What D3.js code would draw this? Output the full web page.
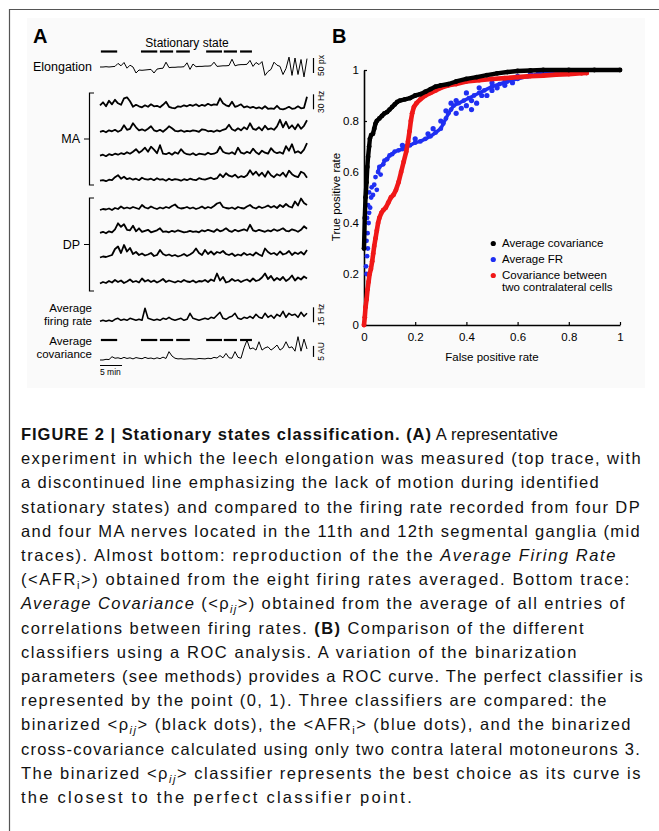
<!DOCTYPE html>
<html><head><meta charset="utf-8">
<script src="https://cdn.jsdelivr.net/npm/d3@7"></script>
<style>
body{margin:0;background:#fff}
svg{display:block}
text{font-family:"Liberation Sans",Arial,Helvetica,sans-serif}
</style>
</head><body>
<svg id="c" width="659" height="831"></svg>
<script>
// ---------------- DATA ----------------
// Panel A: traces sampled along 47 min of recording (70 samples each)
const recordMinutes = 47;
const elongation = [0,0,1,0,1, 2,12,4,15,-4, 6,0,-20,-10,-11, -10,-9,-8,-20,-7, -5,-4,16,-2,-1, -1,0,0,1,14, -8,10,1,2,2, 3,3,4,16,2, 3,4,4,5,26, 4,7,8,8,9, 22,2,15,8,18, -28,-15,-8,16,6, 2,-25,-5,33,-28, 30,-25,25,-33,28];
const ma1 = [8,14,6,17,10, 19,12,9,22,24, 16,5,9,6,4, 8,5,10,6,7, 4,9,15,5,3, 2,6,5,8,6, 9,7,10,6,9, 7,11,8,10,9, 22,12,8,6,15, 5,7,10,4,6, 3,5,2,4,1, 6,1,2,1,7, 1,0,2,5,1, 2,6,2,3,25];
const ma2 = [3,5,2,6,4,7,3,6,16,7, 9,20,12,6,8,5,9,14,6,4, 7,3,8,14,10,5,4,6,3,5, 4,6,5,3,8,7,4,5,3,6, 4,7,9,17,8,5,10,6,12,8, 20,9,7,12,6,15,8,10,7,14, 27,12,23,10,16,8,18,9,15,26];
const ma3 = [2,4,1,5,3,6,4,7,5,9, 6,10,15,8,12,18,10,20,14,7, 23,6,5,8,4,9,6,15,8,5, 4,7,3,6,5,4,8,5,6,9, 20,10,7,6,9,5,18,8,6,10, 7,16,9,5,12,8,6,17,10,7, 9,6,21,12,25,8,11,7,14,27];
const ma4 = [2,3,1,4,3,9,13,6,10,5, 7,4,6,3,8,5,4,6,3,7, 4,5,2,6,3,5,4,2,5,3, 6,4,3,7,5,4,6,8,5,7, 15,9,17,12,10,14,8,11,9,13, 23,14,20,12,18,10,21,13,9,15, 12,18,10,22,15,11,9,20,17,8];
const dp1 = [2,4,3,5,2,6,4,9,5,7, 5,8,6,4,12,7,5,9,6,4, 7,5,8,6,10,13,7,5,6,8, 5,7,4,6,9,5,8,6,10,15, 17,8,6,5,7,4,8,6,5,9, 12,7,5,9,6,8,11,7,10,6, 12,8,14,9,7,19,11,25,16,12];
const dp2 = [3,5,2,6,4,10,22,15,20,9, 8,17,6,12,5,7,9,4,6,8, 12,5,6,4,7,5,8,6,4,5, 7,5,6,4,8,6,9,7,5,10, 6,8,12,7,5,9,6,8,10,7, 19,8,6,9,7,5,8,6,10,7, 9,12,7,6,10,8,5,9,16,11];
const dp3 = [3,5,4,6,8,20,25,12,28,15, 22,10,14,8,11,7,9,12,6,8, 18,10,7,9,6,8,5,7,10,6, 9,13,21,12,8,18,10,15,9,14, 12,16,10,8,11,6,9,7,12,8, 10,7,13,9,6,21,14,10,12,8, 15,9,11,16,8,13,10,14,9,18];
const dp4 = [3,6,4,8,5,10,6,9,4,7, 11,6,8,5,13,7,10,6,9,5, 8,12,6,9,7,5,8,6,10,7, 6,9,5,8,7,10,6,11,8,23, 9,16,5,7,12,8,10,6,9,11, 7,13,8,10,15,23,12,18,9,14, 10,16,8,12,19,9,15,11,17,13];
const avgFiringRate = [1,2,1,2,1,3,4,2,3,2, 4,3,2,3,2,14,4,3,2,3, 2,4,3,5,3,2,3,4,2,3, 9,4,3,2,3,4,3,5,4,7, 10,4,3,5,6,9,4,3,5,4, 6,4,8,5,4,9,5,7,4,8, 6,11,5,9,7,8,5,10,6,9];
const avgCovariance = [0,0,0.3,0.2,1.5,0.8,1,0.6,1.2,0.7, 1,0.5,1.1,0.8,0.6,1.2,0.7,0.9,0.5,1, 0.6,1.3,0.7,3.8,1.8,0.8,0.5,0.6,0.4,0.5, 0.6,0.5,0.4,0.7,0.6,0.5,0.8,0.6,1.2,0.9, 2,1,3,1,0.8,3.8,1.2,0.8,5.5,9, 5,5.5,4.5,8.3,4.5,5.5,6,4.5,5.5,6.8, 4.5,5.5,8.3,5.5,6,4,10.6,4,9.5,5];
// stationary state intervals (minutes)
const stationaryStates = [[0.2,3.9],[9.3,13.0],[13.6,16.6],[17.3,20.4],[24.1,27.7],[28.1,31.1],[31.8,34.5]];

// Panel B: ROC points [false positive rate, true positive rate]
const rocAvgCovariance = [[0,0.3],[0.003,0.42],[0.006,0.5],[0.01,0.56],[0.013,0.62],[0.016,0.66],[0.02,0.7],[0.023,0.73],[0.028,0.745],[0.035,0.75],[0.04,0.77],[0.045,0.79],[0.05,0.8],[0.06,0.81],[0.07,0.82],[0.08,0.83],[0.09,0.835],[0.1,0.845],[0.11,0.855],[0.12,0.865],[0.13,0.875],[0.14,0.88],[0.16,0.885],[0.18,0.89],[0.2,0.9],[0.22,0.905],[0.24,0.915],[0.26,0.925],[0.28,0.935],[0.3,0.94],[0.33,0.945],[0.36,0.955],[0.4,0.965],[0.44,0.972],[0.48,0.98],[0.52,0.987],[0.56,0.992],[0.6,0.996],[0.65,0.998],[0.7,1],[0.8,1],[0.9,1],[1,1]];
const rocContralateral = [[0,0],[0.003,0.03],[0.006,0.07],[0.01,0.1],[0.014,0.14],[0.018,0.17],[0.022,0.2],[0.027,0.22],[0.032,0.25],[0.036,0.28],[0.04,0.31],[0.045,0.34],[0.05,0.37],[0.055,0.4],[0.06,0.42],[0.068,0.44],[0.075,0.45],[0.085,0.46],[0.095,0.48],[0.105,0.5],[0.115,0.51],[0.125,0.53],[0.135,0.56],[0.145,0.6],[0.155,0.64],[0.165,0.68],[0.172,0.72],[0.178,0.76],[0.183,0.8],[0.188,0.83],[0.195,0.855],[0.205,0.87],[0.22,0.885],[0.24,0.9],[0.26,0.91],[0.28,0.92],[0.3,0.93],[0.33,0.94],[0.36,0.945],[0.4,0.955],[0.45,0.96],[0.5,0.965],[0.55,0.968],[0.6,0.972],[0.65,0.976],[0.7,0.978],[0.75,0.982],[0.8,0.984],[0.85,0.987],[0.87,0.988]];
const rocAvgFR = [[0.01,0.2],[0.008,0.23],[0.012,0.27],[0.015,0.3],[0.01,0.33],[0.014,0.36],[0.018,0.4],[0.012,0.42],[0.02,0.44],[0.016,0.47],[0.024,0.46],[0.028,0.5],[0.02,0.52],[0.035,0.51],[0.03,0.54],[0.04,0.55],[0.05,0.53],[0.045,0.58],[0.055,0.6],[0.065,0.59],[0.06,0.62],[0.075,0.63],[0.08,0.645],[0.09,0.65],[0.1,0.665],[0.11,0.67],[0.12,0.68],[0.135,0.685],[0.15,0.69],[0.165,0.7],[0.18,0.705],[0.2,0.715],[0.22,0.72],[0.24,0.73],[0.26,0.74],[0.28,0.755],[0.3,0.77],[0.31,0.79],[0.32,0.81],[0.33,0.83],[0.34,0.845],[0.35,0.86],[0.37,0.87],[0.39,0.88],[0.41,0.89],[0.43,0.9],[0.45,0.91],[0.47,0.92],[0.5,0.935],[0.53,0.945],[0.56,0.955],[0.6,0.965],[0.64,0.975],[0.68,0.985],[0.72,0.99],[0.76,0.995]];
const rocAvgFRSpread = [[0.3,0.8],[0.32,0.84],[0.34,0.87],[0.36,0.88],[0.38,0.85],[0.4,0.86],[0.42,0.88],[0.44,0.87],[0.46,0.9],[0.48,0.9],[0.5,0.92],[0.52,0.93],[0.55,0.94],[0.58,0.95],[0.4,0.91],[0.45,0.93],[0.5,0.95],[0.55,0.965],[0.6,0.975],[0.65,0.985],[0.25,0.75],[0.27,0.77],[0.2,0.73],[0.15,0.705],[0.36,0.83],[0.42,0.845]];
const rocTicks = [0,0.2,0.4,0.6,0.8,1];
const legendLabels = [["Average covariance"],["Average FR"],["Covariance between","two contralateral cells"]];

// Caption
const captionLines = [
 [["FIGURE 2 | Stationary states classification. (A)","b"],[" A representative",""]],
 [["experiment in which the leech elongation was measured (top trace, with",""]],
 [["a discontinued line emphasizing the lack of motion during identified",""]],
 [["stationary states) and compared to the firing rate recorded from four DP",""]],
 [["and four MA nerves located in the 11th and 12th segmental ganglia (mid",""]],
 [["traces). Almost bottom: reproduction of the the ",""],["Average Firing Rate","i"]],
 [["(<AFR",""],["i","sub"],[">) obtained from the eight firing rates averaged. Bottom trace:",""]],
 [["Average Covariance","i"],[" (<\u03C1",""],["ij","subi"],[">) obtained from the average of all entries of",""]],
 [["correlations between firing rates. ",""],["(B)","b"],[" Comparison of the different",""]],
 [["classifiers using a ROC analysis. A variation of the binarization",""]],
 [["parameters (see methods) provides a ROC curve. The perfect classifier is",""]],
 [["represented by the point (0, 1). Three classifiers are compared: the",""]],
 [["binarized <\u03C1",""],["ij","subi"],["> (black dots), the <AFR",""],["i","sub"],["> (blue dots), and the binarized",""]],
 [["cross-covariance calculated using only two contra lateral motoneurons 3.",""]],
 [["The binarized <\u03C1",""],["ij","subi"],["> classifier represents the best choice as its curve is",""]],
 [["the closest to the perfect classifier point.",""]]
];

// ---------------- DRAW ----------------
const svg = d3.select("#c");
svg.append("rect").attr("x",27).attr("y",18).attr("width",618).attr("height",370).attr("fill","#fafafa");
svg.append("path").attr("d","M9.5,831V9.5H659").attr("fill","none").attr("stroke","#555").attr("stroke-width",1.2);

// ===== Panel A =====
const gA = svg.append("g");
gA.append("text").attr("x",33).attr("y",43).attr("font-size",20).attr("font-weight","bold").text("A");
const xT = d3.scaleLinear().domain([0,recordMinutes]).range([100,307]);
const tOf = (i,n) => i*recordMinutes/(n-1);

function drawTrace(vals, base, pxPerUnit, sw){
  const y = d3.scaleLinear().domain([0,1]).range([base, base - pxPerUnit]);
  const line = d3.line().x((d,i)=>xT(tOf(i,vals.length))).y(d=>y(d));
  gA.append("path").attr("d",line(vals)).attr("fill","none").attr("stroke","#000")
    .attr("stroke-width",sw).attr("stroke-linejoin","round");
  return y;
}
function scaleBar(y, v0, v1, label){
  const x = 313.5;
  gA.append("line").attr("x1",x).attr("x2",x).attr("y1",y(v0)).attr("y2",y(v1)).attr("stroke","#000").attr("stroke-width",1.2);
  const mid = (y(v0)+y(v1))/2;
  gA.append("text").attr("transform",`translate(${x+10},${mid}) rotate(-90)`).attr("text-anchor","middle")
    .attr("font-size",8.5).text(label);
}
function dashes(yPos){
  gA.selectAll(null).data(stationaryStates).enter().append("line")
    .attr("x1",d=>xT(d[0])).attr("x2",d=>xT(d[1])).attr("y1",yPos).attr("y2",yPos)
    .attr("stroke","#000").attr("stroke-width",2.2);
}
function label(lines, yFirst){
  lines.forEach((t,k)=>gA.append("text").attr("x",92).attr("y",yFirst+k*13).attr("text-anchor","end").attr("font-size",lines.length>1?11.5:12.5).text(t));
}

gA.append("text").attr("x",187).attr("y",46.5).attr("text-anchor","middle").attr("font-size",12).text("Stationary state");
dashes(51.5);
label(["Elongation"],71);
const yE = drawTrace(elongation, 67, 0.3, 1);
scaleBar(yE, -20, 30, "50 px");

const FRW = 1.8;
const yMA1 = drawTrace(ma1, 109.3, 0.5, FRW);
drawTrace(ma2, 133.3, 0.5, FRW);
drawTrace(ma3, 156.7, 0.5, FRW);
drawTrace(ma4, 181.7, 0.5, FRW);
scaleBar(yMA1, 0, 30, "30 Hz");

drawTrace(dp1, 211, 0.5, FRW);
drawTrace(dp2, 234.3, 0.5, FRW);
drawTrace(dp3, 259, 0.5, FRW);
drawTrace(dp4, 285, 0.5, FRW);

function bracket(y0,y1,name){
  const x=89.5, mid=(y0+y1)/2;
  gA.append("path").attr("d",`M94,${y0}H${x}V${y1}H94M${x},${mid}H84`).attr("fill","none").attr("stroke","#000").attr("stroke-width",1.2);
  gA.append("text").attr("x",80).attr("y",mid+4.3).attr("text-anchor","end").attr("font-size",12.5).text(name);
}
bracket(93,185,"MA");
bracket(198,291,"DP");

label(["Average","firing rate"],311.5);
const yAFR = drawTrace(avgFiringRate, 322.3, 1, 1.6);
scaleBar(yAFR, 0, 15, "15 Hz");

label(["Average","covariance"],345);
dashes(340);
const yCov = drawTrace(avgCovariance, 360, 2.2, 1);
scaleBar(yCov, 1.4, 6.4, "5 AU");

gA.append("line").attr("x1",xT(0)).attr("x2",xT(5)).attr("y1",365.5).attr("y2",365.5).attr("stroke","#000").attr("stroke-width",1);
gA.append("text").attr("x",xT(0)).attr("y",374.5).attr("font-size",8.5).text("5 min");

// ===== Panel B =====
const gB = svg.append("g");
gB.append("text").attr("x",332).attr("y",42.7).attr("font-size",20).attr("font-weight","bold").text("B");
const xR = d3.scaleLinear().domain([0,1]).range([364,620]);
const yR = d3.scaleLinear().domain([0,1]).range([325,70]);
const fmt = d3.format("~g");
const ax = gB.append("g").attr("transform","translate(0,325)")
  .call(d3.axisBottom(xR).tickValues(rocTicks).tickFormat(fmt).tickSizeInner(-3).tickSizeOuter(0).tickPadding(8));
const ay = gB.append("g").attr("transform","translate(364,0)")
  .call(d3.axisLeft(yR).tickValues(rocTicks).tickFormat(fmt).tickSizeInner(-3).tickSizeOuter(0).tickPadding(5));
[ax,ay].forEach(g=>{
  g.attr("font-family",null).attr("font-size",11.5);
  g.select(".domain").attr("stroke","#000").attr("stroke-width",1.6);
  g.selectAll(".tick line").attr("stroke","#000").attr("stroke-width",1.2);
  g.selectAll(".tick text").attr("fill","#000");
});
gB.append("text").attr("x",492).attr("y",361).attr("text-anchor","middle").attr("font-size",11.5).text("False positive rate");
gB.append("text").attr("transform","translate(340,197) rotate(-90)").attr("text-anchor","middle").attr("font-size",11.5).text("True positive rate");

const BLUE="#1f2ff2", RED="#f01818", BLACK="#000";
const lineR = d3.line().x(d=>xR(d[0])).y(d=>yR(d[1]));
function rocSeries(pts, color, r, lw){
  if(lw>0) gB.append("path").attr("d",lineR(pts)).attr("fill","none").attr("stroke",color)
    .attr("stroke-width",lw).attr("stroke-linejoin","round").attr("stroke-linecap","round");
  gB.selectAll(null).data(pts).enter().append("circle")
    .attr("cx",d=>xR(d[0])).attr("cy",d=>yR(d[1])).attr("r",r).attr("fill",color);
}
rocSeries(rocAvgFR.filter(d=>d[1]>=0.6), BLUE, 0, 3.5);
rocSeries(rocAvgFR, BLUE, 2.4, 0);
rocSeries(rocAvgFRSpread, BLUE, 2.6, 0);
rocSeries(rocContralateral, RED, 2.4, 4.6);
rocSeries(rocAvgCovariance, BLACK, 2.4, 4.4);

const legendColors=[BLACK,BLUE,RED];
const legY=[243,259,275];
legendLabels.forEach((lines,k)=>{
  gB.append("circle").attr("cx",xR(0.505)).attr("cy",legY[k]+0.5).attr("r",2.6).attr("fill",legendColors[k]);
  lines.forEach((t,j)=>gB.append("text").attr("x",502).attr("y",legY[k]+4+j*12).attr("font-size",11.5).text(t));
});

// ===== Caption =====
const capX = 21;
const capTargets = [[432,558],[642],[600],[641],[641],[617],[631],[626],[585],[578],[644],[608],[632],[641],[642],[414]];
captionLines.forEach((segs,li)=>{
  const t = svg.append("text").attr("x",capX).attr("y",440+li*24.2).attr("font-size",16.5).attr("fill","#111");
  let shifted=false;
  const spans = segs.map(([s,st])=>{
    const ts = t.append("tspan").text(s);
    if(st==="b") ts.attr("font-weight","bold");
    if(st==="i"||st==="subi") ts.attr("font-style","italic");
    if(st==="sub"||st==="subi"){ ts.attr("font-size",11).attr("dy",4); shifted=true; }
    else if(shifted){ ts.attr("dy",-4); shifted=false; }
    return ts;
  });
  const node=t.node();
  const tg = capTargets[li];
  if(tg.length===2){
    const b=spans[0].node(), r=spans[1].node();
    const wb=b.getComputedTextLength(), nb=b.getNumberOfChars();
    spans[0].style("letter-spacing",((tg[0]-capX-wb)/nb)+"px");
    const wr=r.getComputedTextLength(), nr=r.getNumberOfChars();
    spans[1].style("letter-spacing",((tg[1]-tg[0]-wr)/nr)+"px");
  } else {
    const w=node.getComputedTextLength(), n=node.getNumberOfChars();
    t.style("letter-spacing",((tg[0]-capX-w)/n)+"px");
  }
});
</script>
</body></html>
